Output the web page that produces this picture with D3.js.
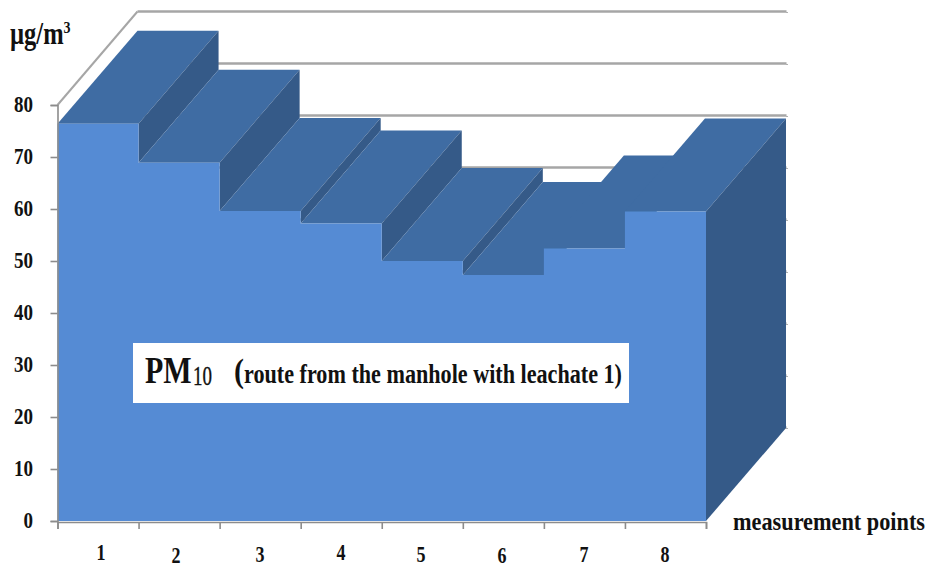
<!DOCTYPE html>
<html>
<head>
<meta charset="utf-8">
<script src="https://cdn.jsdelivr.net/npm/d3@7"></script>
<style>
html, body { margin: 0; padding: 0; background: #fff; }
svg { display: block; }
text { font-family: "Liberation Serif", serif; font-weight: bold; fill: #111; }
</style>
</head>
<body>
<svg id="chart" width="931" height="570"></svg>
<script>
// PM10 concentration at each measurement point
const points = [1, 2, 3, 4, 5, 6, 7, 8];
const pm10 = [76.4, 68.9, 59.6, 57.2, 50.0, 47.3, 52.4, 59.5];
const yTicks = [0, 10, 20, 30, 40, 50, 60, 70, 80];
const xLabelX = [101, 176, 260, 341, 421, 502, 584, 665];
const xLabelY = [553, 556, 555, 553, 555, 556, 555, 555];

const svg = d3.select("#chart");
const x = d3.scaleLinear().domain([0, points.length]).range([57.5, 706]);
const y = d3.scaleLinear().domain([0, 80]).range([521, 105]);

// Oblique projection: the rear of the chart sits up and to the right
const DX = 80, DY = -93;
const colors = { front: "#558bd4", top: "#3f6ca3", side: "#355a88", axis: "#8c8c8c", grid: "#a6a6a6" };
const back = ([px, py]) => [px + DX, py + DY];
const poly = (pts, fill) => svg.append("polygon")
  .attr("points", pts.map(p => p.join(",")).join(" "))
  .attr("fill", fill);

// Back wall gridlines and outer ticks
const wall = svg.append("g");
wall.selectAll("line.grid").data(yTicks).join("line")
  .attr("class", "grid")
  .attr("x1", x(0) + DX).attr("x2", x(8) + DX + 0.5)
  .attr("y1", d => y(d) + DY - 0.5).attr("y2", d => y(d) + DY - 0.5)
  .attr("stroke", colors.grid).attr("stroke-width", 2.4);
wall.selectAll("line.rtick").data(yTicks).join("line")
  .attr("class", "rtick")
  .attr("x1", x(8) + DX).attr("x2", x(8) + DX + 2)
  .attr("y1", d => y(d) + DY + 0.5).attr("y2", d => y(d) + DY + 0.5)
  .attr("stroke", "#b0b0b0").attr("stroke-width", 1.2);

// Side wall edge running from the front axis to the back wall
wall.append("line")
  .attr("x1", x(0)).attr("y1", y(80))
  .attr("x2", x(0) + DX).attr("y2", y(80) + DY - 0.5)
  .attr("stroke", colors.grid).attr("stroke-width", 2);

// Stepped solid: top faces and downward risers, left to right
pm10.forEach((v, i) => {
  const a = [x(i), y(v)], b = [x(i + 1), y(v)];
  poly([a, b, back(b), back(a)], colors.top);
  const next = pm10[i + 1];
  if (next !== undefined && next < v) {
    const c = [x(i + 1), y(next)];
    poly([b, c, back(c), back(b)], colors.side);
  }
});

// Closing wall on the right-hand end
const endTop = [x(8), y(pm10[7])], endBase = [x(8), y(0)];
poly([endTop, endBase, back(endBase), back(endTop)], colors.side);

// Front face as a step outline
const frontPts = [[x(0), y(0)]];
pm10.forEach((v, i) => { frontPts.push([x(i), y(v)], [x(i + 1), y(v)]); });
frontPts.push([x(8), y(0)]);
poly(frontPts, colors.front);

// Axes
const yAxis = svg.append("g").attr("transform", `translate(${x(0)},0)`)
  .call(d3.axisLeft(y).tickValues(yTicks).tickSize(7).tickFormat(""));
const xAxis = svg.append("g").attr("transform", `translate(0,${y(0) + 1})`)
  .call(d3.axisBottom(x).ticks(points.length).tickSize(7).tickFormat(""));
[yAxis, xAxis].forEach(g => {
  g.selectAll("path, line").attr("stroke", colors.axis).attr("stroke-width", 1.6);
});

// Text stretched vertically about its own baseline
function label(px, py, str, size, sy, anchor, weight) {
  return svg.append("text")
    .attr("transform", `translate(${px},${py}) scale(1,${sy})`)
    .attr("text-anchor", anchor || "start")
    .attr("font-size", size)
    .style("font-weight", weight || "bold")
    .text(str);
}

yTicks.forEach(d => label(33, y(d) + 7, d, 19, 1.25, "end"));
points.forEach((p, i) => label(xLabelX[i], xLabelY[i] + 7, p, 18, 1.3, "middle"));

const unit = label(10, 44, "µg/m", 24.5, 1.25);
unit.append("tspan").attr("dy", -9).attr("font-size", 14).text("3");
label(733, 530, "measurement points", 21, 1.2).attr("textLength", 192).attr("lengthAdjust", "spacingAndGlyphs");

// Series caption on a white panel
svg.append("rect").attr("x", 133).attr("y", 343).attr("width", 496).attr("height", 60).attr("fill", "#fff");
label(145, 383, "PM", 30, 1.25);
label(193, 385, "10", 19, 1.4, "start", "normal").style("stroke", "#111").style("stroke-width", 0.25);
label(234, 382, "(", 30, 1.1);
label(244, 383, "route from the manhole with leachate 1)", 22, 1.25)
  .attr("textLength", 378).attr("lengthAdjust", "spacingAndGlyphs");
</script>
</body>
</html>
